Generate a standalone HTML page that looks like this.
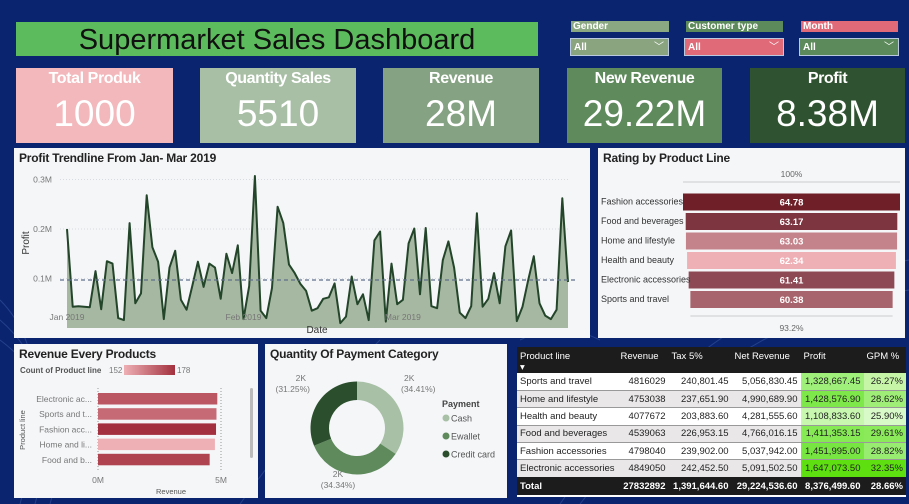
<!DOCTYPE html>
<html><head><meta charset="utf-8">
<style>
*{box-sizing:border-box;margin:0;padding:0}
body{width:909px;height:504px;overflow:hidden;background:#0b2470;font-family:"Liberation Sans",sans-serif;position:relative}
.abs{position:absolute}
.panel{position:absolute;background:#f4f6f8}
.ptitle{position:absolute;left:5px;top:3px;font-weight:bold;font-size:12px;color:#222;letter-spacing:-0.2px}
.card{position:absolute;top:68px;height:75px;color:#fff;text-align:center}
.card .t{font-weight:bold;font-size:16px;margin-top:2px;letter-spacing:-0.4px}
.card .v{font-size:37px;margin-top:5px}
.slab{position:absolute;height:11px;font-size:10px;font-weight:bold;color:#fff;line-height:11px;padding-left:2px}
.sdd{position:absolute;height:18px;font-size:10px;font-weight:bold;color:#fff;line-height:18px;padding-left:3px;border:1px solid #b9c9e0}
.sdd span{position:absolute;right:4px;top:0;font-weight:normal}
table{border-collapse:collapse;font-size:9.5px;color:#222}
td{height:17.4px;padding:0 3px;text-align:right;white-space:nowrap}
td:first-child{text-align:left}
</style></head><body>
<svg class="abs" style="left:0;top:0" width="909" height="504">
<g fill="none" stroke="#3c5ea8" stroke-width="1" opacity="0.5">
<path d="M0 300 Q60 360 20 504"/><path d="M0 320 Q70 380 35 504"/><path d="M0 340 Q80 400 50 504"/>
<path d="M560 504 Q700 300 909 260"/><path d="M580 504 Q720 320 909 290"/><path d="M240 504 Q300 420 380 340"/><path d="M520 340 Q560 320 600 340"/>
</g></svg>

<div class="abs" style="left:16px;top:22px;width:522px;height:34px;background:#5cbb5c;font-size:29px;color:#111;text-align:center;line-height:36px">Supermarket Sales Dashboard</div>

<div class="slab" style="left:571px;top:21px;width:98px;background:#8aa882">Gender</div>
<div class="sdd" style="left:570px;top:38px;width:99px;background:#89a47f">All<span>﹀</span></div>
<div class="slab" style="left:686px;top:21px;width:97px;background:#5c8a5a">Customer type</div>
<div class="sdd" style="left:684px;top:38px;width:100px;background:#e06a78">All<span>﹀</span></div>
<div class="slab" style="left:801px;top:21px;width:97px;background:#e06a78">Month</div>
<div class="sdd" style="left:799px;top:38px;width:100px;background:#5c8a5a">All<span>﹀</span></div>

<div class="card" style="left:16px;width:157px;background:#f2b8bc"><div class="t">Total Produk</div><div class="v">1000</div></div>
<div class="card" style="left:200px;width:156px;background:#a8bfa6"><div class="t">Quantity Sales</div><div class="v">5510</div></div>
<div class="card" style="left:383px;width:156px;background:#85a283"><div class="t">Revenue</div><div class="v">28M</div></div>
<div class="card" style="left:567px;width:155px;background:#5e8a5c"><div class="t">New Revenue</div><div class="v">29.22M</div></div>
<div class="card" style="left:750px;width:155px;background:#2f5230"><div class="t">Profit</div><div class="v">8.38M</div></div>

<div class="panel" style="left:14px;top:148px;width:576px;height:190px">
<div class="ptitle">Profit Trendline From Jan- Mar 2019</div>
</div>
<svg id="trend" class="abs" style="left:0;top:0" width="600" height="340"></svg>

<div class="panel" style="left:598px;top:148px;width:307px;height:190px">
<div class="ptitle">Rating by Product Line</div>
</div>
<svg id="rating" class="abs" style="left:0;top:0" width="909" height="340"></svg>

<div class="panel" style="left:14px;top:344px;width:244px;height:154px">
<div class="ptitle">Revenue Every Products</div>
</div>
<svg id="revbar" class="abs" style="left:0;top:0" width="260" height="504"></svg>

<div class="panel" style="left:265px;top:344px;width:242px;height:154px">
<div class="ptitle">Quantity Of Payment Category</div>
</div>
<svg id="donut" class="abs" style="left:0;top:0" width="510" height="504"></svg>

<div class="abs" style="left:517px;top:347px;width:389px;height:150px;background:#fff">
<table style="width:389px">
<tr style="background:#1c1c1c;color:#fff;height:25px">
<td style="width:97px;text-align:left;vertical-align:top;padding-top:4px">Product line<br>▾</td><td style="text-align:left;width:51px;vertical-align:top;padding-top:4px">Revenue</td><td style="text-align:left;width:63px;vertical-align:top;padding-top:4px">Tax 5%</td><td style="text-align:left;width:69px;vertical-align:top;padding-top:4px">Net Revenue</td><td style="text-align:left;width:63px;vertical-align:top;padding-top:4px">Profit</td><td style="text-align:left;vertical-align:top;padding-top:4px">GPM %</td></tr>
<tr style="background:#fff;border-bottom:1px solid #999"><td>Sports and travel</td><td>4816029</td><td>240,801.45</td><td>5,056,830.45</td><td style="background:#9ef07a">1,328,667.45</td><td style="background:#c6f5a8">26.27%</td></tr>
<tr style="background:#e9e7e7;border-bottom:1px solid #999"><td>Home and lifestyle</td><td>4753038</td><td>237,651.90</td><td>4,990,689.90</td><td style="background:#7ee84a">1,428,576.90</td><td style="background:#9eee78">28.62%</td></tr>
<tr style="background:#fff;border-bottom:1px solid #999"><td>Health and beauty</td><td>4077672</td><td>203,883.60</td><td>4,281,555.60</td><td style="background:#c8f8b0">1,108,833.60</td><td style="background:#d8f9c8">25.90%</td></tr>
<tr style="background:#e9e7e7;border-bottom:1px solid #999"><td>Food and beverages</td><td>4539063</td><td>226,953.15</td><td>4,766,016.15</td><td style="background:#86ea55">1,411,353.15</td><td style="background:#8aea5a">29.61%</td></tr>
<tr style="background:#fff;border-bottom:1px solid #999"><td>Fashion accessories</td><td>4798040</td><td>239,902.00</td><td>5,037,942.00</td><td style="background:#78e640">1,451,995.00</td><td style="background:#98ec70">28.82%</td></tr>
<tr style="background:#e9e7e7"><td>Electronic accessories</td><td>4849050</td><td>242,452.50</td><td>5,091,502.50</td><td style="background:#5ee010">1,647,073.50</td><td style="background:#5ee010">32.35%</td></tr>
<tr style="background:#1c1c1c;color:#fff;font-weight:bold"><td>Total</td><td>27832892</td><td>1,391,644.60</td><td>29,224,536.60</td><td>8,376,499.60</td><td>28.66%</td></tr>
</table></div>

<script>
const NS="http://www.w3.org/2000/svg";
function mk(parent,tag,attrs,text){const e=document.createElementNS(NS,tag);for(const k in attrs)e.setAttribute(k,attrs[k]);if(text!==undefined)e.textContent=text;parent.appendChild(e);return e;}

// ---- Trend chart data (profit in thousands, daily Jan 1 - Mar 30 2019)
const trendValues=[200,43,44,43,42,115,38,135,130,20,16,212,50,70,268,163,134,18,122,156,57,37,85,134,83,130,122,59,150,111,167,18,85,307,35,20,81,245,212,128,111,89,75,35,40,59,62,90,10,23,104,48,68,16,177,195,13,130,48,57,171,201,68,202,44,40,137,175,122,31,20,44,232,43,59,111,50,165,197,14,43,96,145,50,25,18,37,262,93];
const trendAverage=97;
const trendYTicks=[100,200,300];
const trendYTickLabels=["0.1M","0.2M","0.3M"];
const trendMonthIdx=[0,31,59];
const trendMonthLabels=["Jan 2019","Feb 2019","Mar 2019"];

(function(){
 const s=document.getElementById('trend');
 const x0=67,x1=568,yZero=328,pxPerK=0.495;
 const xs=i=>x0+i*(x1-x0)/(trendValues.length-1);
 const ys=v=>yZero-v*pxPerK;
 trendYTicks.forEach((t,i)=>{
  const g=mk(s,'line',{x1:60,x2:570,y1:ys(t),y2:ys(t),stroke:'#d8dbe0','stroke-dasharray':'1 2'});
  
  
  const l=mk(s,'text',{x:52,y:ys(t)+3,'text-anchor':'end','font-size':8.5,fill:'#777'},trendYTickLabels[i]);
  
  
 });
 let d='M'+xs(0)+' '+yZero;
 trendValues.forEach((v,i)=>{d+=' L'+xs(i).toFixed(1)+' '+ys(v).toFixed(1);});
 d+=' L'+xs(trendValues.length-1)+' '+yZero+' Z';
 const area=mk(s,'path',{d:d,fill:'#a7b8a2'});
 
 
 const line=mk(s,'polyline',{points:trendValues.map((v,i)=>xs(i).toFixed(1)+','+ys(v).toFixed(1)).join(' '),fill:'none',stroke:'#23452a','stroke-width':2,'stroke-linejoin':'round'});
 
 
 const avg=mk(s,'line',{x1:60,x2:575,y1:ys(trendAverage),y2:ys(trendAverage),stroke:'#5f6f8a','stroke-width':1.3,'stroke-dasharray':'4 3'});
 
 
 trendMonthIdx.forEach((m,i)=>{
  const t=mk(s,'text',{x:xs(m),y:320,'text-anchor':'middle','font-size':8.5,fill:'#777'},trendMonthLabels[i]);
  
  
 });
 const xt=mk(s,'text',{x:317,y:333,'text-anchor':'middle','font-size':10,fill:'#333'},'Date');
 
 
 const yt=mk(s,'text',{x:29,y:243,'text-anchor':'middle','font-size':10,fill:'#333',transform:'rotate(-90 29 243)'},'Profit');
 
 
})();

// ---- Rating funnel
const ratingCategories=["Fashion accessories","Food and beverages","Home and lifestyle","Health and beauty","Electronic accessories","Sports and travel"];
const ratingValues=[64.78,63.17,63.03,62.34,61.41,60.38];
const ratingColors=["#6e1f28","#7d3540","#c4828a","#eeb0b5","#8e4a54","#a8646c"];
(function(){
 const s=document.getElementById('rating');
 const cx=791.5,maxW=217,top0=193.5,step=19.5,h=17;
 const max=Math.max(...ratingValues);
 const w=v=>v/max*maxW;
 const tl=mk(s,'line',{x1:cx-maxW/2,x2:cx+maxW/2,y1:182,y2:182,stroke:'#ccc'});
 
 
 const tt=mk(s,'text',{x:cx,y:177,'text-anchor':'middle','font-size':8.5,fill:'#666'},'100%');
 
 
 ratingValues.forEach((v,i)=>{
  const y=top0+i*step;
  const r=mk(s,'rect',{x:cx-w(v)/2,y:y,width:w(v),height:h,fill:ratingColors[i]});
  
  
  const vt=mk(s,'text',{x:cx,y:y+12,'text-anchor':'middle','font-size':9.5,'font-weight':'bold',fill:'#fff'},v.toFixed(2));
  
  
  const lt=mk(s,'text',{x:601,y:y+11,'font-size':9,fill:'#333'},ratingCategories[i]);
  
  
 });
 const last=ratingValues[ratingValues.length-1];
 const bl=mk(s,'line',{x1:cx-w(last)/2,x2:cx+w(last)/2,y1:316,y2:316,stroke:'#ccc'});
 
 
 const bt=mk(s,'text',{x:cx,y:331,'text-anchor':'middle','font-size':8.5,fill:'#666'},(last/max*100).toFixed(1)+'%');
 
 
})();

// ---- Revenue bar chart (millions)
const revCategories=["Electronic ac...","Sports and t...","Fashion acc...","Home and li...","Food and b..."];
const revValues=[4.849,4.816,4.798,4.753,4.539];
const revCounts=[170,166,178,152,174];
const revAxisTicks=[0,5];
(function(){
 const s=document.getElementById('revbar');
 const x0=98,pxPerM=24.6,top0=393,step=15.2,h=11.5;
 const xs=v=>x0+v*pxPerM;
 const lg=mk(s,'text',{x:20,y:373,'font-size':8,'font-weight':'bold',fill:'#555'},'Count of Product line');
 
 
 mk(s,'text',{x:109,y:373,'font-size':8,fill:'#777'},'152');
 const defs=mk(s,'defs',{});
 const gr=mk(defs,'linearGradient',{id:'cg'});
 mk(gr,'stop',{offset:'0','stop-color':'#eeb0b5'});
 mk(gr,'stop',{offset:'1','stop-color':'#a3303e'});
 const gb=mk(s,'rect',{x:124,y:365,width:51,height:10,fill:'url(#cg)'});
 
 
 mk(s,'text',{x:177,y:373,'font-size':8,fill:'#777'},'178');
 revAxisTicks.forEach(t=>{
  const gl=mk(s,'line',{x1:xs(t),x2:xs(t),y1:388,y2:470,stroke:'#999','stroke-dasharray':'1 2'});
  
  
  const tl=mk(s,'text',{x:xs(t),y:483,'text-anchor':'middle','font-size':8.5,fill:'#777'},t+'M');
  
  
 });
 const cmin=Math.min(...revCounts),cmax=Math.max(...revCounts);
 const col=c=>{const t=(c-cmin)/(cmax-cmin);const a=[238,176,181],b=[163,48,62];return 'rgb('+a.map((v,i)=>Math.round(v+(b[i]-v)*t)).join(',')+')';};
 revValues.forEach((v,i)=>{
  const y=top0+i*step;
  const r=mk(s,'rect',{x:x0,y:y,width:v*pxPerM,height:h,fill:col(revCounts[i])});
  
  
  const l=mk(s,'text',{x:92,y:y+9,'text-anchor':'end','font-size':8.5,fill:'#777'},revCategories[i]);
  
  
 });
 const xt=mk(s,'text',{x:171,y:494,'text-anchor':'middle','font-size':7.5,fill:'#555'},'Revenue');
 
 
 const yt=mk(s,'text',{x:25,y:430,'text-anchor':'middle','font-size':7.5,fill:'#555',transform:'rotate(-90 25 430)'},'Product line');
 
 
 const sb=mk(s,'rect',{x:250,y:388,width:3,height:70,rx:1.5,fill:'#bbb'});
 
 
})();

// ---- Donut
const payCategories=["Cash","Ewallet","Credit card"];
const payShares=[34.41,34.34,31.25];
const payLabels=["2K","2K","2K"];
const payColors=["#a8c0a5","#5e8a5c","#2b4f2c"];
(function(){
 const s=document.getElementById('donut');
 const cx=357,cy=428,R=46.5,r=28;
 const total=payShares.reduce((a,b)=>a+b,0);
 let a0=-Math.PI/2;
 const labelPos=[[404,381,'start'],[338,477,'middle'],[306,381,'end']];
 payShares.forEach((p,i)=>{
  const a1=a0+p/total*2*Math.PI;
  const pt=(rr,a)=>[cx+rr*Math.cos(a),cy+rr*Math.sin(a)];
  const [x1,y1]=pt(R,a0),[x2,y2]=pt(R,a1),[x3,y3]=pt(r,a1),[x4,y4]=pt(r,a0);
  const lg=(a1-a0)>Math.PI?1:0;
  const seg=mk(s,'path',{d:`M${x1} ${y1} A${R} ${R} 0 ${lg} 1 ${x2} ${y2} L${x3} ${y3} A${r} ${r} 0 ${lg} 0 ${x4} ${y4} Z`,fill:payColors[i]});
  
  
  const lp=labelPos[i];
  const t1=mk(s,'text',{x:lp[0],y:lp[1],'text-anchor':lp[2],'font-size':8.5,fill:'#777'},payLabels[i]);
  
  
  const t2=mk(s,'text',{x:lp[0]-(lp[2]==='start'?3:0)+(lp[2]==='end'?4:0),y:lp[1]+11,'text-anchor':lp[2],'font-size':8.5,fill:'#777'},'('+p.toFixed(2)+'%)');
  
  
  a0=a1;
 });
 const lt=mk(s,'text',{x:442,y:407,'font-size':9,'font-weight':'bold',fill:'#444'},'Payment');
 
 
 payCategories.forEach((c,i)=>{
  const y=418+i*18;
  const d=mk(s,'circle',{cx:446,cy:y,r:3.5,fill:payColors[i]});
  
  
  const t=mk(s,'text',{x:451,y:y+3.5,'font-size':9,fill:'#555'},c);
  
  
 });
})();
</script>
</body></html>
